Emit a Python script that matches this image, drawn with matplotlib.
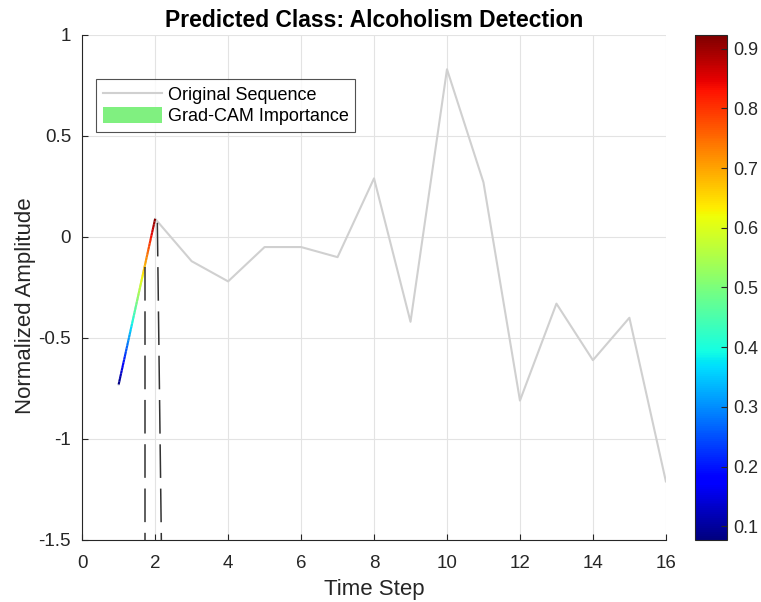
import numpy as np
import matplotlib.pyplot as plt
from matplotlib.collections import LineCollection
from matplotlib.patches import Patch
from matplotlib.lines import Line2D

plt.rcParams['font.family'] = ['Liberation Sans', 'DejaVu Sans']

time_steps = [1, 2, 3, 4, 5, 6, 7, 8, 9, 10, 11, 12, 13, 14, 15, 16]
amplitude = [-0.73, 0.09, -0.12, -0.22, -0.05, -0.05, -0.10, 0.29, -0.42,
             0.83, 0.27, -0.81, -0.33, -0.61, -0.40, -1.21]
# Grad-CAM importance on the highlighted segment (time steps 1..2)
cam_steps = [1, 2]
cam_importance = [0.077, 0.923]
cam_lims = [0.077, 0.923]
# dashed marker lines: (x_top, y_top, x_bottom)
markers = [(1.71, -0.15, 1.71), (2.06, 0.07, 2.17)]

fig = plt.figure(figsize=(7.61, 6.02), dpi=100)
ax = fig.add_axes([0.108, 0.103, 0.767, 0.839])
cax = fig.add_axes([0.913, 0.103, 0.042, 0.839])

ax.plot(time_steps, amplitude, color='#d0d0d0', lw=1.5, zorder=2)

# gradient coloured segment
n = 60
xs = np.linspace(cam_steps[0], cam_steps[1], n + 1)
ys = np.interp(xs, time_steps, amplitude)
vals = np.interp(xs, cam_steps, cam_importance)
segs = np.stack([np.column_stack([xs[:-1], ys[:-1]]), np.column_stack([xs[1:], ys[1:]])], axis=1)
lc = LineCollection(segs, cmap='jet', linewidths=1.5, zorder=3)
lc.set_array((vals[:-1] + vals[1:]) / 2)
lc.set_clim(*cam_lims)
ax.add_collection(lc)

for xt, yt, xb in markers:
    ax.plot([xt, xb], [yt, -1.5], color='#333333', lw=1.1, ls=(0, (22, 7)), zorder=4)

ax.set_xlim(0, 16)
ax.set_ylim(-1.5, 1)
ax.set_xticks(range(0, 17, 2))
ax.set_yticks([-1.5, -1, -0.5, 0, 0.5, 1])
ax.set_yticklabels(['-1.5', '-1', '-0.5', '0', '0.5', '1'])
ax.grid(True, color='#e3e3e3', lw=0.8)
ax.set_axisbelow(True)
for s in ['top', 'right']:
    ax.spines[s].set_visible(False)
for s in ['left', 'bottom']:
    ax.spines[s].set_color('#262626')
ax.tick_params(direction='in', length=4, labelsize=13.5, colors='#262626')
ax.tick_params(axis='x', pad=11)
ax.tick_params(axis='y', pad=8)
ax.set_xlabel('Time Step', fontsize=16, color='#262626', labelpad=5)
ax.set_ylabel('Normalized Amplitude', fontsize=16, color='#262626')
ax.yaxis.set_label_coords(-0.079, 0.464)
ax.set_title('Predicted Class: Alcoholism Detection', fontsize=16.5, fontweight='bold', pad=6)

handles = [Line2D([0], [0], color='#d0d0d0', lw=1.5),
           Patch(facecolor='#80f080', edgecolor='none')]
leg = ax.legend(handles, ['Original Sequence', 'Grad-CAM Importance'],
                loc='upper left', bbox_to_anchor=(0.024, 0.912), fontsize=13,
                frameon=True, fancybox=False, borderpad=0.35, handlelength=3.3,
                handleheight=1.0, handletextpad=0.3, labelspacing=0.18,
                borderaxespad=0)
leg.get_frame().set_edgecolor('#262626')
leg.get_frame().set_linewidth(0.8)

cb = fig.colorbar(lc, cax=cax)
cb.set_ticks([0.1, 0.2, 0.3, 0.4, 0.5, 0.6, 0.7, 0.8, 0.9])
cb.ax.tick_params(direction='in', length=4, labelsize=13, colors='#262626', pad=5)
cb.outline.set_edgecolor('#262626')
cb.outline.set_linewidth(0.8)

plt.savefig('out.png', dpi=100)
